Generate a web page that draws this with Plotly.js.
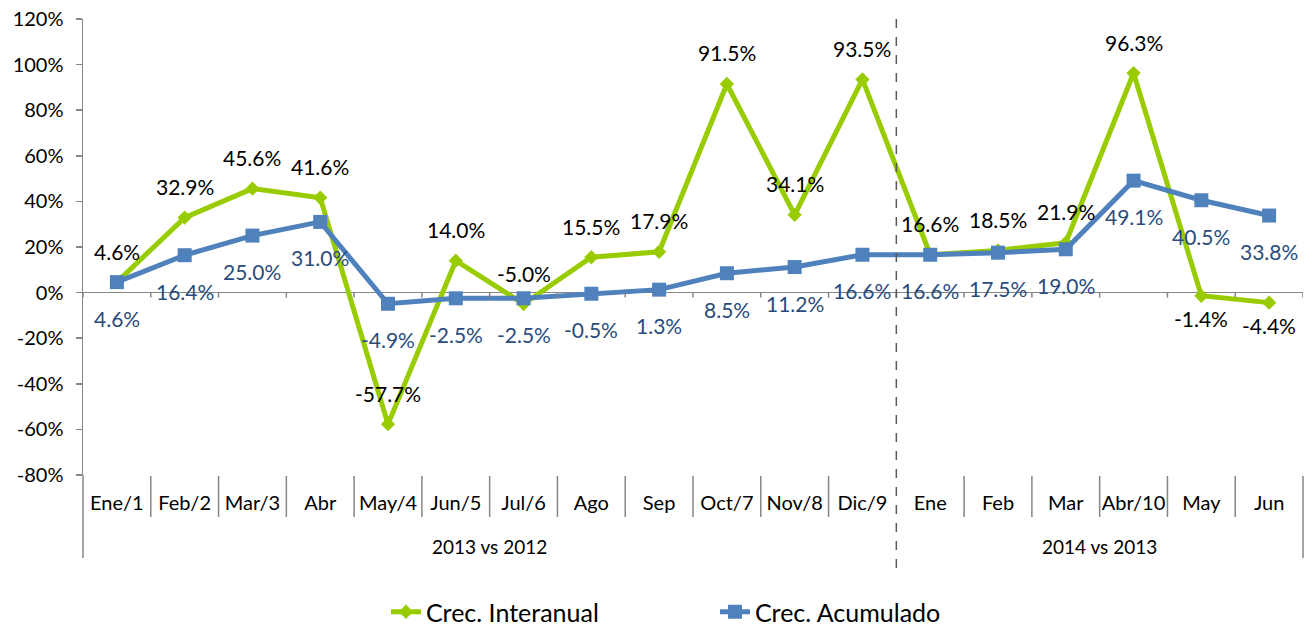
<!DOCTYPE html>
<html><head><meta charset="utf-8">
<script src="https://cdn.plot.ly/plotly-3.0.1.min.js"></script>
<style>html,body{margin:0;padding:0;background:#fff}#chart{width:1314px;height:629px}</style>
</head><body><div id="chart"></div>
<script>
const categories = ['Ene/1','Feb/2','Mar/3','Abr','May/4','Jun/5','Jul/6','Ago','Sep','Oct/7','Nov/8','Dic/9','Ene','Feb','Mar','Abr/10','May','Jun'];
const groupLabels = ['2013 vs 2012','2014 vs 2013'];
const groupSizes = [12, 6];
const interanual = [4.6,32.9,45.6,41.6,-57.7,14.0,-5.0,15.5,17.9,91.5,34.1,93.5,16.6,18.5,21.9,96.3,-1.4,-4.4];
const acumulado = [4.6,16.4,25.0,31.0,-4.9,-2.5,-2.5,-0.5,1.3,8.5,11.2,16.6,16.6,17.5,19.0,49.1,40.5,33.8];
const yTicks = [-80,-60,-40,-20,0,20,40,60,80,100,120];
const interanualSide = ['up','up','up','up','up','up','up','up','up','up','up','up','up','up','up','up','down','down'];
const acumuladoSide = categories.map(() => 'down');

const GREEN = '#99CC00', BLUE = '#4F81BD', AXIS = '#868686';
const FONT = 'Lato, "Open Sans", sans-serif';
const N = categories.length;

const traces = [
  {x: categories, y: interanual, name: 'Crec. Interanual', type: 'scatter', mode: 'lines+markers',
   line: {color: GREEN, width: 5}, marker: {symbol: 'diamond', size: 11, color: GREEN}, cliponaxis: false},
  {x: categories, y: acumulado, name: 'Crec. Acumulado', type: 'scatter', mode: 'lines+markers',
   line: {color: BLUE, width: 5}, marker: {symbol: 'square', size: 14, color: BLUE}, cliponaxis: false}
];

const fmt = v => v.toFixed(1) + '%';
const annotations = [];
interanual.forEach((v, i) => annotations.push({
  x: i, y: v, xref: 'x', yref: 'y', text: fmt(v), showarrow: false,
  yshift: interanualSide[i] === 'up' ? 31 : -23,
  font: {family: FONT, size: 21, color: '#000000'}
}));
acumulado.forEach((v, i) => annotations.push({
  x: i, y: v, xref: 'x', yref: 'y', text: fmt(v), showarrow: false,
  yshift: acumuladoSide[i] === 'up' ? 31 : -36,
  font: {family: FONT, size: 21, color: '#2A4B7C'}
}));
let start = 0;
groupLabels.forEach((g, k) => {
  const mid = start + (groupSizes[k] - 1) / 2;
  annotations.push({x: mid, xref: 'x', y: -0.156, yref: 'paper', text: g, showarrow: false,
    yanchor: 'middle', font: {family: FONT, size: 19, color: '#000'}});
  start += groupSizes[k];
});

const shapes = [];
const lineStyle = {color: AXIS, width: 1.5};
const groupBounds = [];
let acc = 0; groupSizes.forEach(s => { acc += s; groupBounds.push(acc - 0.5); });
for (let b = 0.5; b < N - 1; b += 1) {
  if (groupBounds.includes(b)) continue;
  shapes.push({type: 'line', xref: 'x', yref: 'paper', x0: b, x1: b, y0: -0.002, y1: -0.092, line: lineStyle});
}
for (let b = -0.5; b <= N - 0.5; b += 1) {
  shapes.push({type: 'line', xref: 'x', yref: 'y', x0: b, x1: b, y0: 0, y1: -2.2, line: lineStyle});
}
shapes.push({type: 'line', xref: 'paper', yref: 'paper', x0: 0, x1: 0, y0: 0, y1: -0.182, line: lineStyle});
shapes.push({type: 'line', xref: 'paper', yref: 'paper', x0: 1, x1: 1, y0: -0.002, y1: -0.182, line: lineStyle});
shapes.push({type: 'line', xref: 'x', yref: 'paper', x0: groupBounds[0], x1: groupBounds[0], y0: 1, y1: -0.219,
  line: {color: '#595959', width: 1.5, dash: 'dash'}, layer: 'above'});

const layout = {
  width: 1314, height: 629,
  margin: {l: 83, r: 11, t: 19, b: 154, autoexpand: false},
  paper_bgcolor: '#fff', plot_bgcolor: '#fff',
  font: {family: FONT, color: '#000'},
  showlegend: true,
  legend: {orientation: 'h', x: 0.518, xanchor: 'center', yref: 'container', y: 0.027, yanchor: 'middle',
    font: {family: FONT, size: 25, color: '#000'}, entrywidth: 284, traceorder: 'normal'},
  xaxis: {type: 'category', range: [-0.5, N - 0.5], showline: false, showgrid: false, zeroline: false,
    ticks: '', tickfont: {family: FONT, size: 20, color: '#000'}, ticklabelstandoff: 14, fixedrange: true},
  yaxis: {range: [-80, 120], tickmode: 'array', tickvals: yTicks, ticktext: yTicks.map(v => v + '%'),
    showgrid: false, zeroline: true, zerolinecolor: AXIS, zerolinewidth: 1.5,
    showline: true, linecolor: AXIS, linewidth: 1.5, ticks: 'outside', ticklen: 6, tickcolor: AXIS, tickwidth: 1.5,
    tickfont: {family: FONT, size: 20, color: '#000'}, ticklabelstandoff: 8, fixedrange: true},
  annotations: annotations,
  shapes: shapes
};

Plotly.newPlot('chart', traces, layout, {displayModeBar: false, staticPlot: true});
</script>
</body></html>
